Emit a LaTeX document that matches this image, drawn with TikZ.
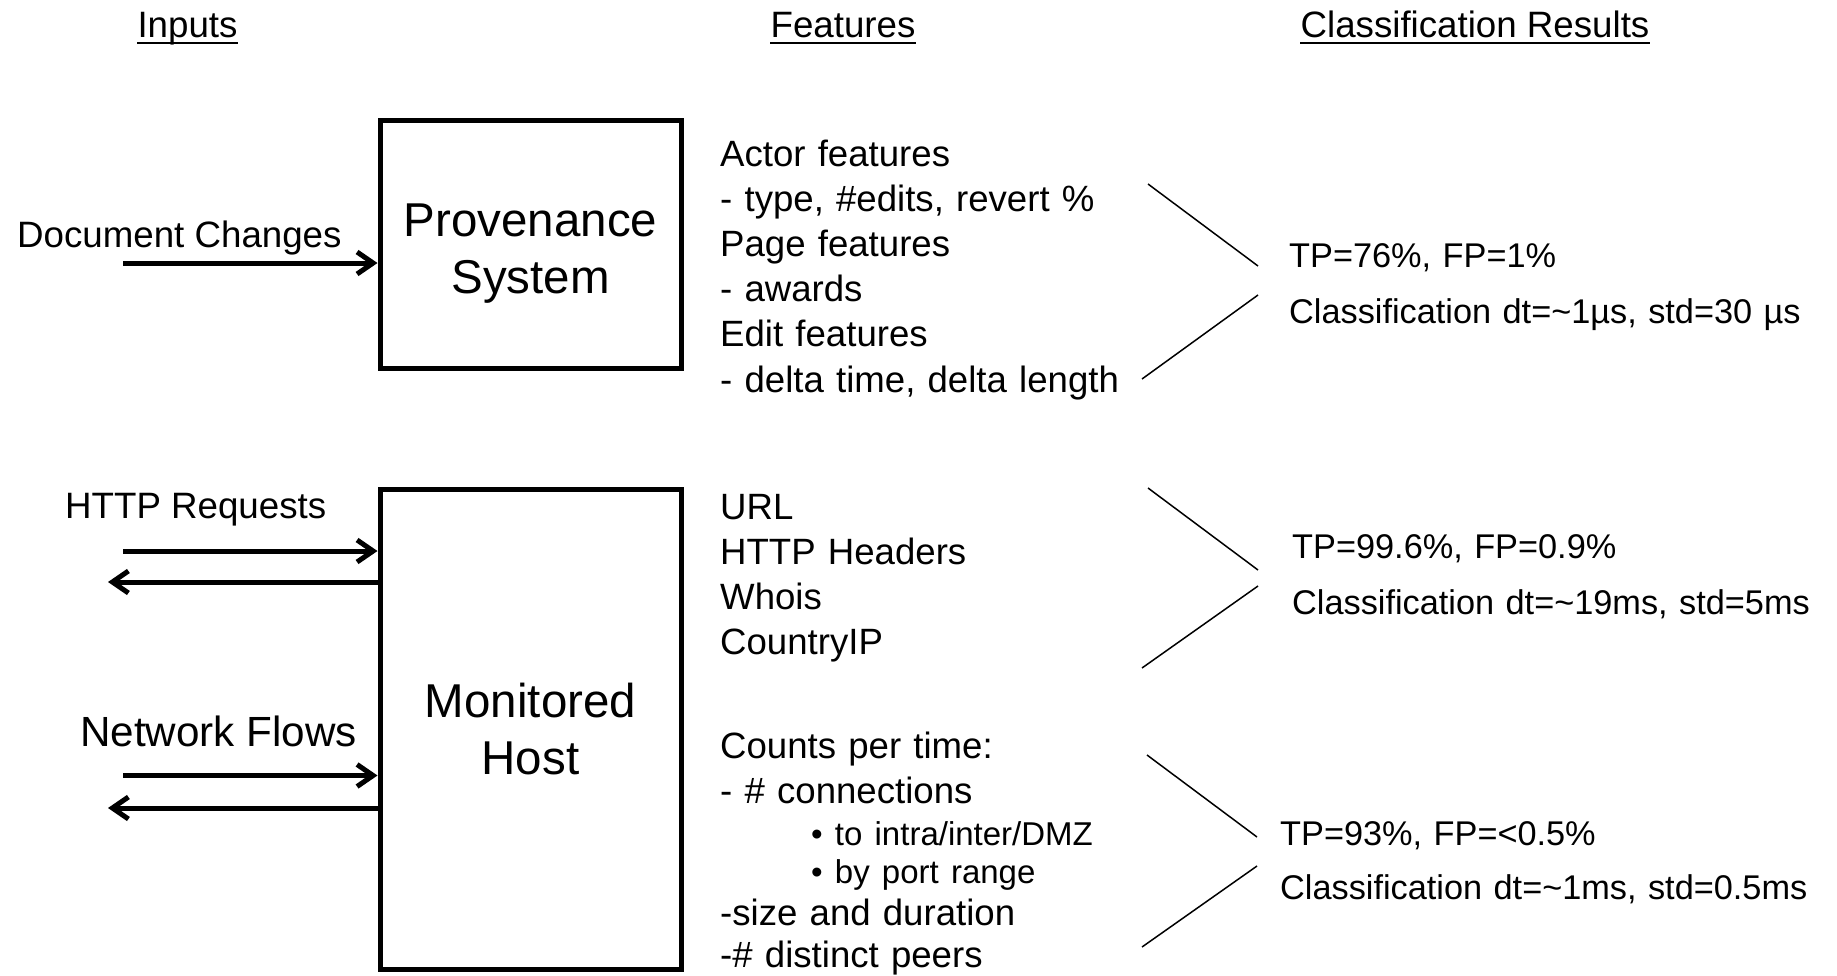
\documentclass[tikz,border=0pt]{standalone}
\usepackage{fontspec}
\setmainfont{Liberation Sans}
\usetikzlibrary{arrows.meta}

\begin{document}
\begin{tikzpicture}[
  x=1pt, y=-1pt,
  head/.style={anchor=base, inner sep=0pt, text depth=5pt,
    font=\fontsize{36.7}{40}\selectfont},
  box/.style={draw, line width=5pt, align=center, inner sep=0pt,
    minimum width=301pt, font=\fontsize{47.5}{56.7}\selectfont},
  lbl/.style={anchor=base west, inner sep=0pt, font=\fontsize{36.7}{40}\selectfont},
  feat/.style={anchor=base west, inner sep=0pt, text width=420pt, align=left,
    font=\fontsize{36.6}{45.2}\selectfont},
  res/.style={anchor=base west, inner sep=0pt, text width=540pt, align=left,
    font=\fontsize{34.3}{56}\selectfont},
  arr/.style={-{Straight Barb[length=16pt, width=22pt]}, line width=5pt},
  brk/.style={line width=1.5pt}
]
\path[use as bounding box, fill=white] (0,0) rectangle (1837,975);

% column headings
\node[head] (inputs) at (187.5,37.3) {Inputs};
\node[head] (features) at (843,37.3) {Features};
\node[head] (results) at (1475,37.3) {Classification Results};
\draw[line width=2pt] (inputs.south west) -- (inputs.south east);
\draw[line width=2pt] (features.south west) -- (features.south east);
\draw[line width=2pt] (results.south west) -- (results.south east);

% systems
\node[box, minimum height=247.5pt] (prov) at (530.5,244.25) {\rule{0pt}{42pt}Provenance\\\smash{System}};
\node[box, minimum height=479.5pt] (host) at (530.5,729.25) {Monitored\\Host};

% inputs
\node[lbl] (doc) at (17,247) {Document Changes};
\node[lbl] (http) at (65,518) {HTTP Requests};
\node[lbl, font=\fontsize{42.2}{45}\selectfont] (flows) at (80,746.7) {Network Flows};
\coordinate (docin) at (123,263);
\coordinate (httpin) at (123,551);
\coordinate (httpout) at (108,582);
\coordinate (flowin) at (123,775.5);
\coordinate (flowout) at (108,808);
\draw[arr] (docin) -- (docin -| prov.west);
\draw[arr] (httpin) -- (httpin -| host.west);
\draw[arr] (httpout -| host.west) -- (httpout);
\draw[arr] (flowin) -- (flowin -| host.west);
\draw[arr] (flowout -| host.west) -- (flowout);

% features
\node[feat] (provfeat) at (720,166) {Actor features\\- type, \#edits, revert \%\\Page features\\- awards\\Edit features\\- delta time, delta length};
\node[feat] (httpfeat) at (720,519) {URL\\HTTP Headers\\Whois\\CountryIP};
\node[feat] (flowfeat) at (720,758) {Counts per time:\par
  - \# connections\par
  {\fontsize{33}{42}\selectfont\hspace*{91pt}• to intra/inter/DMZ\par
  \fontsize{33}{38}\selectfont\hspace*{91pt}• by port range\par}
  {\fontsize{36.6}{42}\selectfont -size and duration\par}
  {\fontsize{36.6}{42.5}\selectfont -\# distinct peers\par}};

% results
\node[res] (provres) at (1289,267) {TP=76\%, FP=1\%\\Classification dt=\textasciitilde1µs, std=30 µs};
\node[res] (httpres) at (1292,558) {TP=99.6\%, FP=0.9\%\\Classification dt=\textasciitilde19ms, std=5ms};
\node[res] (flowres) at (1280,845) {TP=93\%, FP=<0.5\%\\[-1.5pt]Classification dt=\textasciitilde1ms, std=0.5ms};
\draw[brk] (1148,184) -- (1258,266);
\draw[brk] (1258,295) -- (1142,379);
\draw[brk] (1148,488) -- (1258,570);
\draw[brk] (1258,586) -- (1142,668);
\draw[brk] (1147,755) -- (1257,837);
\draw[brk] (1257,866) -- (1142,947);
\end{tikzpicture}
\end{document}
